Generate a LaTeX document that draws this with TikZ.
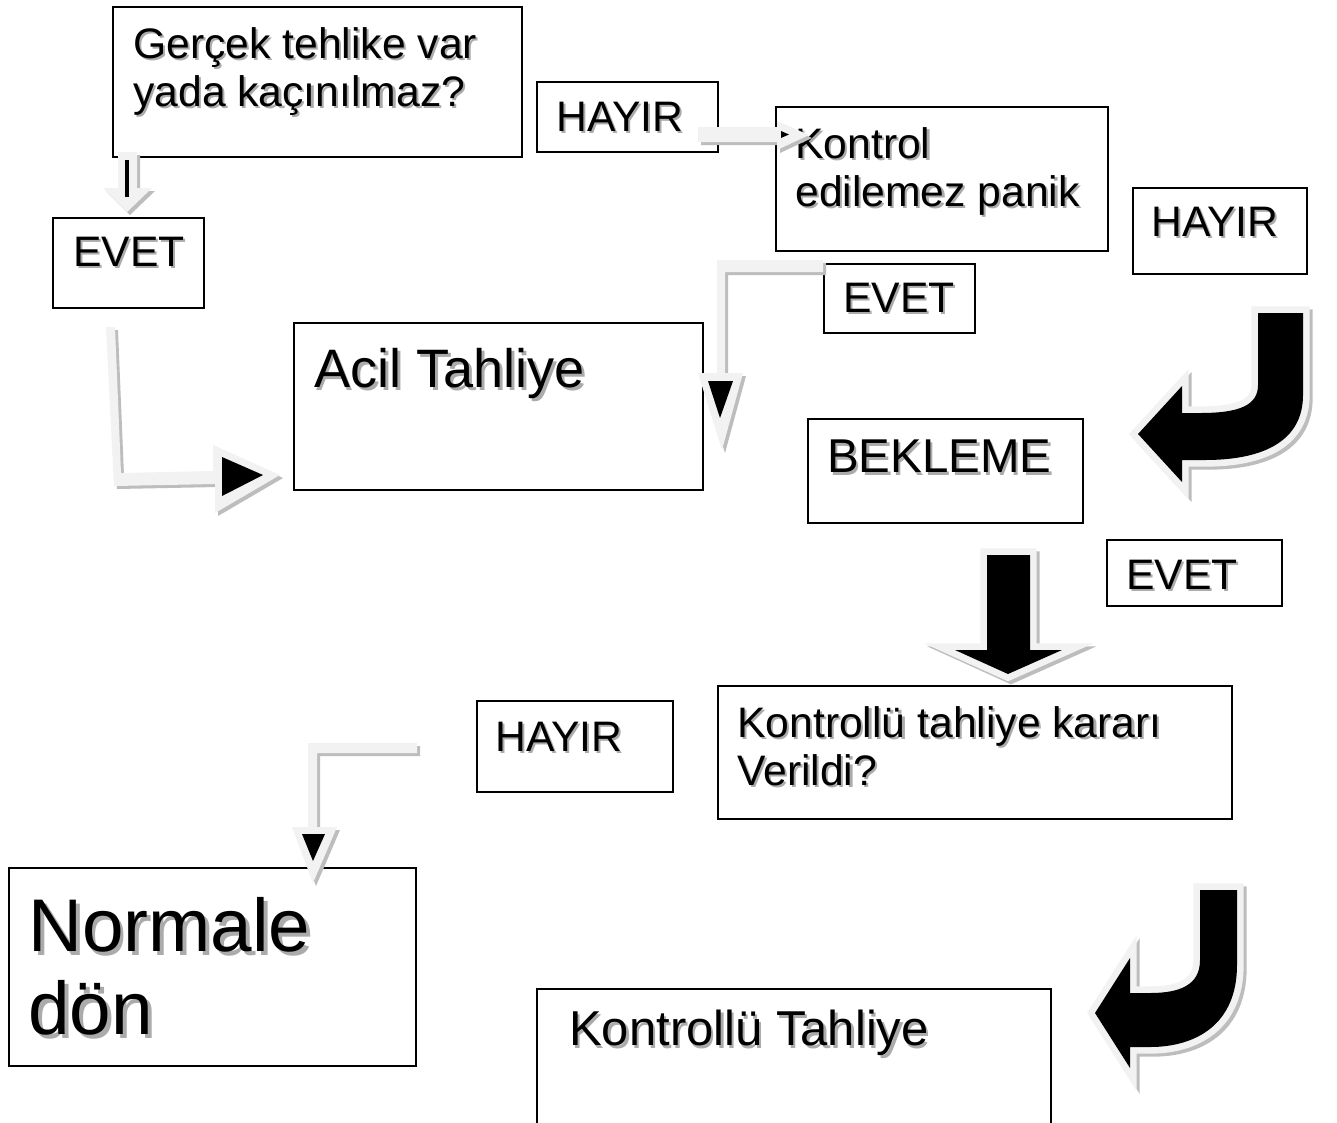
\documentclass[tikz,border=0pt]{standalone}
\usepackage{fontspec}
\setmainfont{Liberation Sans}
\usetikzlibrary{fit}
\definecolor{lightarr}{HTML}{F2F2F2}
\definecolor{shadowarr}{HTML}{BDBDBD}
\definecolor{shadowtxt}{HTML}{ABABAB}
\newcommand\shd[1]{\rlap{\kern0.05em\raisebox{-0.05em}{\color{shadowtxt}#1}}#1}
\tikzset{
  box/.style={draw=black,line width=1.6pt,inner sep=0pt,rectangle},
  txt/.style={anchor=north west,inner sep=0pt,align=left,font=\fontsize{32pt}{36pt}\selectfont},
  shadowshape/.style={fill=shadowarr},
  lightshape/.style={fill=lightarr},
  blackedge/.style={line width=10pt,line join=miter},
  arrA/.pic={\path[pic actions] (118,152) -- (137,152) -- (137,188) -- (152,188) -- (127,212) -- (103,188) -- (118,188) -- cycle;},
  arrB/.pic={\path[pic actions] (698,127) -- (777,127) -- (777,121) -- (809,135) -- (777,150) -- (777,142) -- (698,142) -- cycle;},
  arrC/.pic={\path[pic actions] (823,260) -- (717,260) -- (717,373) -- (698,373) -- (722,450) -- (743,373) -- (725,373) -- (725,272) -- (823,272) -- cycle;},
  arrD/.pic={\path[pic actions] (106,327) -- (115,327) -- (121,473) -- (213,471) -- (213,445) -- (280,475) -- (215,513) -- (215,484) -- (114,486) -- cycle;},
  arrG/.pic={\path[pic actions] (417,743) -- (308,743) -- (308,827) -- (292,827) -- (313,883) -- (337,827) -- (317,827) -- (317,753) -- (417,753) -- cycle;},
  arrE/.pic={\path[pic actions] (1258,313) -- (1303,313) -- (1303,395) .. controls (1303,440) and (1265,460) .. (1205,460) -- (1182,460) -- (1182,482) -- (1138,434) -- (1182,386) -- (1182,413) -- (1200,413) .. controls (1240,413) and (1258,405) .. (1258,385) -- cycle;},
  arrF/.pic={\path[pic actions] (987,555) -- (1030,555) -- (1030,650) -- (1062,650) -- (1008,674) -- (955,650) -- (987,650) -- cycle;},
  arrH/.pic={\path[pic actions] (1200,890) -- (1237,890) -- (1237,965) .. controls (1237,1025) and (1195,1047) .. (1150,1047) -- (1130,1047) -- (1130,1068) -- (1095,1013) -- (1130,958) -- (1130,993) -- (1150,993) .. controls (1180,993) and (1200,985) .. (1200,960) -- cycle;}
}
\begin{document}
\begin{tikzpicture}[x=0.75pt,y=-0.75pt]
\useasboundingbox (0,0) rectangle (1337,1122);
\clip (0,0) rectangle (1337,1122);
\fill[white] (0,0) rectangle (1337,1122);
% boxes
\node[box,fit={(113,7) (522,157)}] (q1) {};
\node[box,fit={(537,82) (718,152)}] (h1) {};
\node[box,fit={(776,107) (1108,251)}] (kp) {};
\node[box,fit={(1133,188) (1307,274)}] (h2) {};
\node[box,fit={(53,218) (204,308)}] (e1) {};
\node[box,fit={(824,264) (975,333)}] (e2) {};
\node[box,fit={(294,323) (703,490)}] (acil) {};
\node[box,fit={(808,419) (1083,523)}] (bek) {};
\node[box,fit={(1107,540) (1282,606)}] (e3) {};
\node[box,fit={(718,686) (1232,819)}] (kk) {};
\node[box,fit={(477,701) (673,792)}] (h3) {};
\node[box,fit={(9,868) (416,1066)}] (nd) {};
\node[box,fit={(537,989) (1051,1140)}] (kt) {};
% texts
\node[txt] (q1t) at (133,27) {\shd{Gerçek tehlike var}\\\shd{yada kaçınılmaz?}};
\node[txt] (h1t) at (556,102) {\shd{HAYIR}};
\node[txt] (kpt) at (795,127) {\shd{Kontrol}\\\shd{edilemez panik}};
\node[txt] (h2t) at (1151,207) {\shd{HAYIR}};
\node[txt] (e1t) at (73,237) {\shd{EVET}};
\node[txt] (e2t) at (843,283) {\shd{EVET}};
\node[txt,font=\fontsize{40.6pt}{46pt}\selectfont] (acilt) at (314,348) {\shd{Acil Tahliye}};
\node[txt,font=\fontsize{35.6pt}{41pt}\selectfont] (bekt) at (827,440) {\shd{BEKLEME}};
\node[txt] (e3t) at (1126,560) {\shd{EVET}};
\node[txt] (kkt) at (737,706) {\shd{Kontrollü tahliye kararı}\\\shd{Verildi?}};
\node[txt] (h3t) at (495,722) {\shd{HAYIR}};
\node[txt,font=\fontsize{56pt}{62.25pt}\selectfont] (ndt) at (28,897) {\shd{Normale}\\\shd{dön}};
\node[txt,font=\fontsize{36.75pt}{42pt}\selectfont] (ktt) at (569,1010) {\shd{Kontrollü Tahliye}};
% light arrows
\foreach \a in {arrA,arrB,arrC,arrD,arrG}{
  \pic[shadowshape] at (3,3) {\a};
  \pic[lightshape] at (0,0) {\a};
}
\draw[line width=3pt] (127,160) -- (127,197);
\fill (781,131) -- (789,134.5) -- (781,138) -- cycle;
\fill (708,381) -- (733,381) -- (720,418) -- cycle;
\fill (222,457) -- (263,475) -- (222,496) -- cycle;
\fill (302,834) -- (325,834) -- (313,861) -- cycle;
% black arrows
\foreach \a in {arrE,arrF,arrH}{
  \pic[shadowshape,draw=shadowarr,blackedge] at (3,3) {\a};
  \pic[lightshape,draw=lightarr,blackedge] at (0,0) {\a};
  \pic[fill=black] at (0,0) {\a};
}
\end{tikzpicture}
\end{document}
